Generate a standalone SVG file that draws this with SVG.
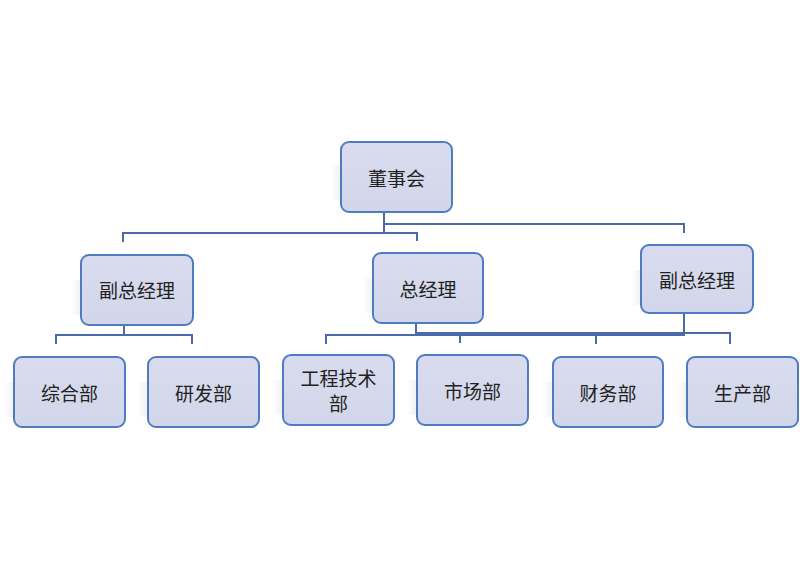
<svg xmlns="http://www.w3.org/2000/svg" width="800" height="569" viewBox="0 0 800 569">
<style>
.box{fill:url(#g);stroke:#4f7cc0;stroke-width:2}
.ghost{fill:url(#gh)}
.t{font-family:"Noto Sans CJK SC","Noto Sans",sans-serif;font-size:19px;fill:#222;text-anchor:middle;dominant-baseline:central}
.c{fill:none;stroke:#4a6aab;stroke-width:2}
</style>
<defs>
<linearGradient id="g" x1="0" y1="0" x2="0" y2="1">
<stop offset="0" stop-color="#d9dcee"/>
<stop offset="1" stop-color="#d2d6ea"/>
</linearGradient>
<linearGradient id="gh" x1="0" y1="0" x2="1" y2="0">
<stop offset="0" stop-color="#ffffff"/>
<stop offset="1" stop-color="#f0f0f0"/>
</linearGradient>
</defs>
<rect width="800" height="569" fill="#fff"/>
<g id="connectors">
<path class="c" d="M384 212V233"/>
<path class="c" d="M384 224H684V233"/>
<path class="c" d="M123 242V233H417V241"/>
<path class="c" d="M124 325V335"/>
<path class="c" d="M56 344V335H192V344"/>
<path class="c" d="M416 323V335"/>
<path class="c" d="M326 344V335H685"/>
<path class="c" d="M460 335V343"/>
<path class="c" d="M684 313V333"/>
<path class="c" d="M416 333H730V344"/>
<path class="c" d="M596 333V344"/>
</g>
<g id="n1"><rect class="ghost" x="331" y="165" width="10" height="35" rx="3"/><rect class="box" x="341" y="142" width="111" height="70" rx="8"/><text class="t" x="396.5" y="177">董事会</text></g>
<g id="n2"><rect class="ghost" x="71" y="280" width="10" height="35" rx="3"/><rect class="box" x="81" y="255" width="112" height="70" rx="8"/><text class="t" x="137" y="289">副总经理</text></g>
<g id="n3"><rect class="ghost" x="363" y="278" width="10" height="35" rx="3"/><rect class="box" x="373" y="253" width="110" height="70" rx="8"/><text class="t" x="428" y="288">总经理</text></g>
<g id="n4"><rect class="ghost" x="631" y="270" width="10" height="35" rx="3"/><rect class="box" x="641" y="245" width="112" height="68" rx="8"/><text class="t" x="697" y="279">副总经理</text></g>
<g id="n5"><rect class="ghost" x="4" y="382" width="10" height="35" rx="3"/><rect class="box" x="14" y="357" width="111" height="70" rx="8"/><text class="t" x="69.5" y="392">综合部</text></g>
<g id="n6"><rect class="ghost" x="138" y="382" width="10" height="35" rx="3"/><rect class="box" x="148" y="357" width="111" height="70" rx="8"/><text class="t" x="203.5" y="392">研发部</text></g>
<g id="n7"><rect class="ghost" x="273" y="380" width="10" height="35" rx="3"/><rect class="box" x="283" y="355" width="111" height="70" rx="8"/><text class="t" x="338.5" y="377">工程技术</text><text class="t" x="338.5" y="402">部</text></g>
<g id="n8"><rect class="ghost" x="407" y="380" width="10" height="35" rx="3"/><rect class="box" x="417" y="355" width="111" height="70" rx="8"/><text class="t" x="472.5" y="390">市场部</text></g>
<g id="n9"><rect class="ghost" x="543" y="382" width="10" height="35" rx="3"/><rect class="box" x="553" y="357" width="110" height="70" rx="8"/><text class="t" x="608" y="392">财务部</text></g>
<g id="n10"><rect class="ghost" x="677" y="382" width="10" height="35" rx="3"/><rect class="box" x="687" y="357" width="111" height="70" rx="8"/><text class="t" x="742.5" y="392">生产部</text></g>
</svg>
